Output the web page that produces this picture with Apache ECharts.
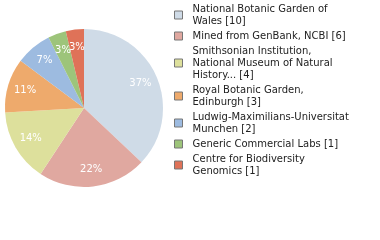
<!DOCTYPE html>
<html><head><meta charset="utf-8">
<script src="https://cdn.jsdelivr.net/npm/echarts@6/dist/echarts.min.js"></script>
<style>html,body{margin:0;padding:0;background:#fff}#c{width:380px;height:240px}</style>
</head><body><div id="c"></div>
<script>
var categories = [
  "National Botanic Garden of\nWales [10]",
  "Mined from GenBank, NCBI [6]",
  "Smithsonian Institution,\nNational Museum of Natural\nHistory... [4]",
  "Royal Botanic Garden,\nEdinburgh [3]",
  "Ludwig-Maximilians-Universitat\nMunchen [2]",
  "Generic Commercial Labs [1]",
  "Centre for Biodiversity\nGenomics [1]"
];
var values = [10, 6, 4, 3, 2, 1, 1];
var colors = ["#cfdbe7", "#e0a8a0", "#dde09c", "#eeaa6c", "#9dbbe0", "#9dc47a", "#df7258"];

var total = values.reduce(function(a,b){return a+b;},0);
var data = categories.map(function(n,i){return {name:n, value:values[i], itemStyle:{color:colors[i]}};});
var chart = echarts.init(document.getElementById('c'), null, {renderer:'canvas'});
chart.setOption({
  animation:false,
  legend:{
    orient:'vertical', left:174, top:3, padding:0, itemWidth:8, itemHeight:8, itemGap:3,
    icon:'rect',
    itemStyle:{borderColor:'#777', borderWidth:1},
    textStyle:{fontFamily:'DejaVu Sans', fontSize:10, color:'#222', lineHeight:12, padding:[0,0,0,5]},
    data: categories
  },
  series:[{
    type:'pie', center:[84,108], radius:[0,79], startAngle:90, clockwise:true,
    label:{show:false}, labelLine:{show:false}, silent:true,
    data:data
  },{
    type:'pie', center:[84,108], radius:[38,79], startAngle:90, clockwise:true,
    silent:true, legendHoverLink:false, avoidLabelOverlap:false, minShowLabelAngle:0,
    itemStyle:{color:'rgba(0,0,0,0)'},
    labelLayout:{hideOverlap:false},
    label:{show:true, position:'inside', color:'#fff', fontFamily:'DejaVu Sans', fontSize:10, overflow:'none',
      formatter:function(p){return Math.floor(p.value/total*100)+'%';}},
    labelLine:{show:false},
    data: categories.map(function(n,i){return {name:'_'+i, value:values[i]};})
  }]
});
</script></body></html>
